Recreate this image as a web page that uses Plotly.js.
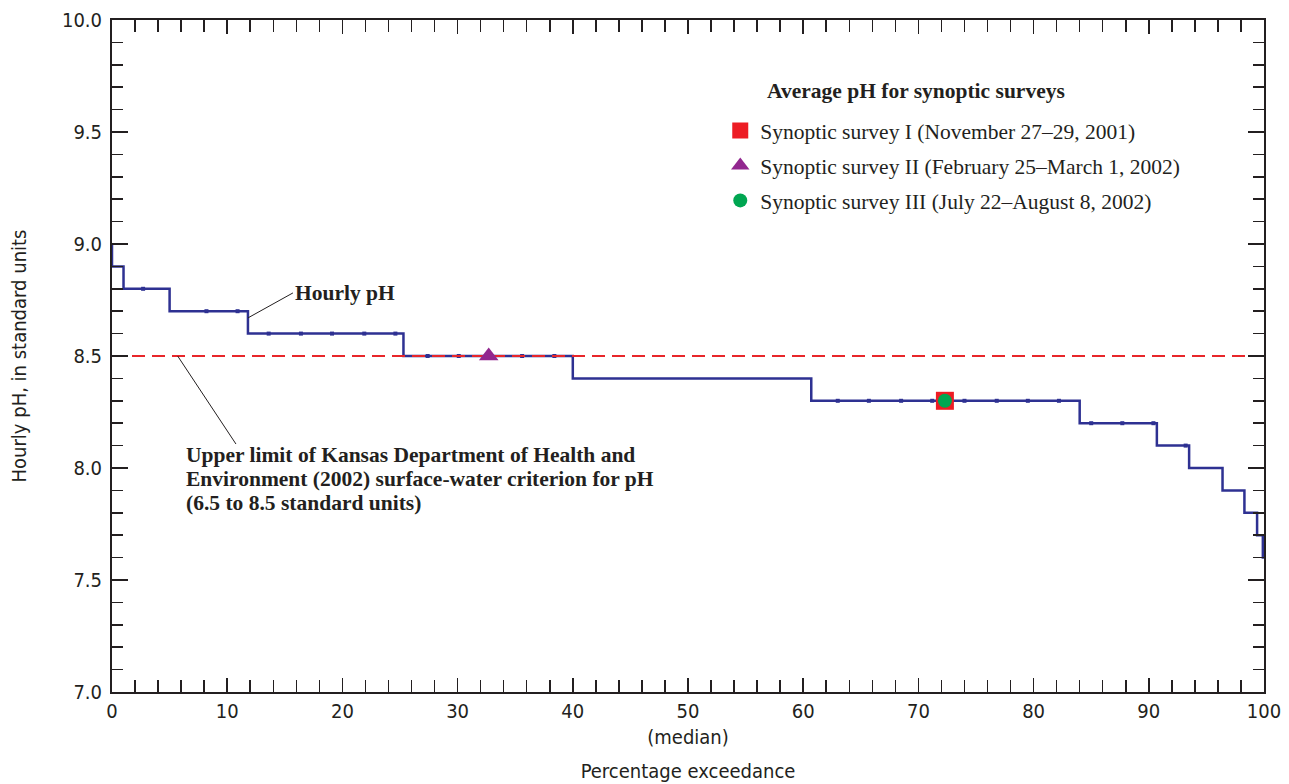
<!DOCTYPE html>
<html>
<head>
<meta charset="utf-8">
<script src="https://cdn.plot.ly/plotly-3.0.1.min.js"></script>
<style>html,body{margin:0;padding:0;background:#fff;}#chart{width:1289px;height:784px;}</style>
</head>
<body>
<div id="chart"></div>
<script>
// Hourly pH duration curve (step breakpoints)
const stepPct = [0, 0, 1.0, 5.0, 11.8, 25.3, 40.0, 60.7, 84.0, 90.7, 93.5, 96.4, 98.3, 99.4, 99.9, 100];
const stepPH  = [9.0, 8.9, 8.8, 8.7, 8.6, 8.5, 8.4, 8.3, 8.2, 8.1, 8.0, 7.9, 7.8, 7.7, 7.6, 7.6];
// small data dots visible along the curve
const dotPct = [2.7, 8.2, 10.9, 13.6, 16.4, 19.1, 21.9, 24.6, 27.4, 30.1, 35.6, 38.4, 63.0, 65.7, 68.5, 71.2, 74.0, 76.8, 79.5, 82.2, 85.0, 87.7, 90.4, 93.2];
const dotPH  = [8.8, 8.7, 8.7, 8.6, 8.6, 8.6, 8.6, 8.6, 8.5, 8.5, 8.5, 8.5, 8.3, 8.3, 8.3, 8.3, 8.3, 8.3, 8.3, 8.3, 8.2, 8.2, 8.2, 8.1];
// criterion
const limitPct = [0, 100];
const limitPH = [8.5, 8.5];
// synoptic surveys
const surveyNames = ["Synoptic survey I (November 27\u201329, 2001)", "Synoptic survey II (February 25\u2013March 1, 2002)", "Synoptic survey III (July 22\u2013August 8, 2002)"];
const surveyPct = [72.3, 32.7, 72.3];
const surveyPH = [8.3, 8.5, 8.3];
// axis ticks
const xTickVals = [0, 10, 20, 30, 40, 50, 60, 70, 80, 90, 100];
const xTickText = ["0", "10", "20", "30", "40", "50<br>(median)", "60", "70", "80", "90", "100"];
// criterion note lines
const noteLines = ["Upper limit of Kansas Department of Health and", "Environment (2002) surface-water criterion for pH", "(6.5 to 8.5 standard units)"];

const sans = "Liberation Sans Narrow, DejaVu Sans Condensed, Arial Narrow, sans-serif";
const serif = "Liberation Serif, Times New Roman, serif";
const blue = "#2e3192";
const ink = "#231f20";
const serifSize = 21.5;

const traces = [
  {x: stepPct, y: stepPH, type: "scatter", mode: "lines", line: {shape: "hv", color: blue, width: 2.5}, showlegend: false, hoverinfo: "skip"},
  {x: dotPct, y: dotPH, type: "scatter", mode: "markers", marker: {symbol: "square", size: 4, color: blue}, showlegend: false, hoverinfo: "skip"},
  {x: limitPct, y: limitPH, type: "scatter", mode: "lines", line: {color: "#e8262a", width: 2.2, dash: "13px,7px"}, showlegend: false, hoverinfo: "skip"},
  {x: [surveyPct[0]], y: [surveyPH[0]], name: surveyNames[0], type: "scatter", mode: "markers", marker: {symbol: "square", size: 18, color: "#ed1c24"}, legendgroup: "a"},
  {x: [surveyPct[1]], y: [surveyPH[1]], name: surveyNames[1], type: "scatter", mode: "markers", marker: {symbol: "triangle-up", size: 17, color: "#92278f"}, legendgroup: "b"},
  {x: [surveyPct[2]], y: [surveyPH[2]], name: surveyNames[2], type: "scatter", mode: "markers", marker: {symbol: "circle", size: 14, color: "#00a651"}, legendgroup: "c"}
];

const axisCommon = {
  showgrid: false, zeroline: false, showline: true, linecolor: ink, linewidth: 2,
  mirror: "allticks", ticks: "inside", tickcolor: ink, tickwidth: 1.5,
  tickfont: {family: sans, size: 20, color: ink}
};

const noteY = [8.058, 7.951, 7.844];
const annotations = [
  {xref: "paper", yref: "paper", x: (765 - 112) / 1152, y: 1 - (91 - 20) / 672, xanchor: "left", yanchor: "middle", showarrow: false,
   text: "<b>Average pH for synoptic surveys</b>", font: {family: serif, size: serifSize, color: ink}},
  {x: 11.8, y: 8.67, xref: "x", yref: "y", showarrow: true, arrowhead: 0, arrowwidth: 1, arrowcolor: ink,
   ax: 45, ay: -25, xanchor: "left", yanchor: "middle",
   text: "<b>Hourly pH</b>", font: {family: serif, size: serifSize, color: ink}}
];
noteLines.forEach((t, i) => annotations.push({
  x: 6.25, y: noteY[i], xref: "x", yref: "y", showarrow: false, xanchor: "left", yanchor: "middle", align: "left",
  text: "<b>" + t + "</b>", font: {family: serif, size: serifSize, color: ink}
}));

const layout = {
  width: 1289, height: 784,
  margin: {l: 112, r: 25, t: 20, b: 92},
  paper_bgcolor: "#fff", plot_bgcolor: "#fff",
  xaxis: Object.assign({}, axisCommon, {
    range: [0, 100], tickmode: "array", tickvals: xTickVals, ticktext: xTickText, ticklen: 14,
    minor: {dtick: 2, ticks: "inside", ticklen: 12, tickcolor: ink, tickwidth: 1.5, showgrid: false},
    title: {text: "Percentage exceedance", font: {family: sans, size: 20, color: ink}, standoff: 16}
  }),
  yaxis: Object.assign({}, axisCommon, {
    range: [7.0, 10.0], dtick: 0.5, tick0: 7, tickformat: ".1f", ticklen: 16, ticklabelstandoff: 4,
    minor: {dtick: 0.1, ticks: "inside", ticklen: 11, tickcolor: ink, tickwidth: 1.5, showgrid: false},
    title: {text: "Hourly pH, in standard units", font: {family: sans, size: 20, color: ink}, standoff: 30}
  }),
  legend: {
    x: 0.528, y: 0.866, xanchor: "left", yanchor: "top",
    font: {family: serif, size: serifSize, color: ink},
    bgcolor: "rgba(0,0,0,0)", traceorder: "grouped", tracegroupgap: 4
  },
  showlegend: true,
  annotations: annotations,
  shapes: [
    {type: "line", xref: "x", yref: "y", x0: 5.7, y0: 8.5, x1: 10.76, y1: 8.107, line: {color: ink, width: 1}}
  ]
};

Plotly.newPlot("chart", traces, layout, {displayModeBar: false, staticPlot: true});
</script>
</body>
</html>
